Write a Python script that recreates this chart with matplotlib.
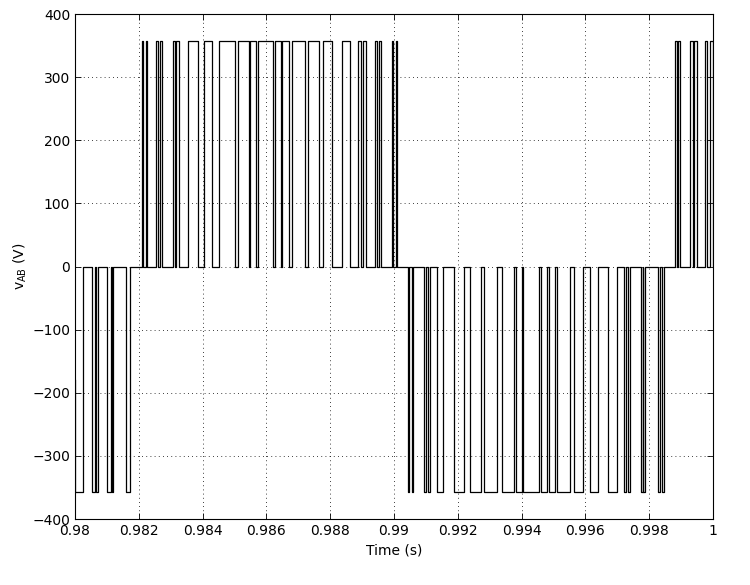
import matplotlib
matplotlib.use("Agg")
import matplotlib.pyplot as plt
import numpy as np

# DC link level of the line voltage (V)
vdc = 357

# pulses: start time, end time (s)
neg_start = [0.98000, 0.98053, 0.98067, 0.98100, 0.98116, 0.98161,
             0.99043, 0.99056, 0.99093, 0.99106, 0.99136, 0.99189,
             0.99238, 0.99283, 0.99338, 0.99383, 0.99405, 0.99460,
             0.99487, 0.99510, 0.99564, 0.99615, 0.99670, 0.99722,
             0.99734, 0.99774, 0.99782, 0.99829, 0.99841]
neg_end = [0.98026, 0.98064, 0.98073, 0.98112, 0.98120, 0.98172,
           0.99047, 0.99061, 0.99099, 0.99113, 0.99154, 0.99220,
           0.99273, 0.99324, 0.99376, 0.99401, 0.99456, 0.99481,
           0.99505, 0.99552, 0.99593, 0.99641, 0.99698, 0.99728,
           0.99741, 0.99779, 0.99787, 0.99834, 0.99847]

pos_start = [0.98209, 0.98221, 0.98255, 0.98266, 0.98308, 0.98318,
             0.98355, 0.98405, 0.98451, 0.98512, 0.98549, 0.98575,
             0.98627, 0.98650, 0.98679, 0.98731, 0.98778, 0.98836,
             0.98888, 0.98902, 0.98941, 0.98953, 0.98993, 0.99005,
             0.99881, 0.99891, 0.99928, 0.99939, 0.99975, 0.99991]
pos_end = [0.98213, 0.98227, 0.98261, 0.98274, 0.98315, 0.98326,
           0.98385, 0.98430, 0.98502, 0.98544, 0.98567, 0.98621,
           0.98645, 0.98671, 0.98721, 0.98766, 0.98806, 0.98862,
           0.98895, 0.98912, 0.98947, 0.98959, 0.98998, 0.99010,
           0.99887, 0.99897, 0.99936, 0.99949, 0.99981, 1.00000]

x_ticks = [0.98, 0.982, 0.984, 0.986, 0.988, 0.99, 0.992, 0.994, 0.996, 0.998, 1.0]
x_labels = ['0.98', '0.982', '0.984', '0.986', '0.988', '0.99', '0.992',
            '0.994', '0.996', '0.998', '1']
y_ticks = [-400, -300, -200, -100, 0, 100, 200, 300, 400]

# build the step waveform from the pulse lists
pulses = [(s, e, -vdc) for s, e in zip(neg_start, neg_end)]
pulses += [(s, e, vdc) for s, e in zip(pos_start, pos_end)]
pulses.sort()

t = [0.98]
v = [-180]
for s, e, lev in pulses:
    t += [s, s, e, e]
    v += [v[-1], lev, lev, 0]
t.append(1.0)
v.append(v[-1])

plt.rcParams['font.family'] = ['DejaVu Sans']
fig = plt.figure(figsize=(7.5, 5.85), dpi=100)
ax = fig.add_axes([0.1, 0.1128, 0.8507, 0.8632])
ax.plot(t, v, color='black', lw=0.9)

ax.set_xlim(0.98, 1.0)
ax.set_ylim(-400, 400)
ax.set_xticks(x_ticks)
ax.set_xticklabels(x_labels)
ax.set_yticks(y_ticks)
ax.grid(True, color='black', linestyle=(0, (1, 4)), lw=0.6)
ax.tick_params(direction='in', top=True, right=True, labelsize=10, length=4, width=0.6)
for sp in ax.spines.values():
    sp.set_linewidth(0.8)
ax.set_xlabel('Time (s)', fontsize=10)
ax.set_ylabel(r'v$_{\mathregular{AB}}$ (V)', fontsize=10, labelpad=2)

fig.savefig('out.png', dpi=100)
